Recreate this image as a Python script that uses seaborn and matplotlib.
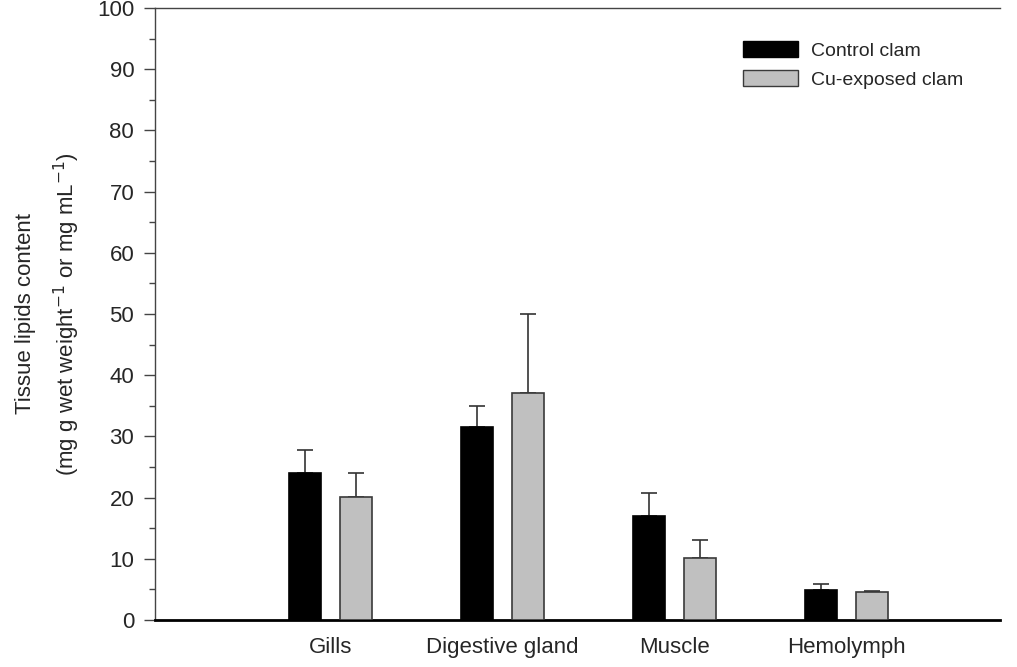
import matplotlib
matplotlib.use('Agg')
import matplotlib.pyplot as plt
import matplotlib.patches as mpatches
import seaborn as sns
import pandas as pd
import numpy as np

# values
tissues = ["Gills", "Digestive gland", "Muscle", "Hemolymph"]
groups = ["Control clam", "Cu-exposed clam"]
control = [24.0, 31.6, 17.0, 4.9]
control_err = [3.8, 3.4, 3.8, 0.9]
cu_exposed = [20.1, 37.1, 10.1, 4.5]
cu_exposed_err = [3.9, 12.9, 2.9, 0.2]

df = pd.DataFrame({
    'tissue': tissues * 2,
    'group': [groups[0]] * 4 + [groups[1]] * 4,
    'lipids': control + cu_exposed,
})
errs = {groups[0]: control_err, groups[1]: cu_exposed_err}

sns.set_style('ticks')
plt.rcParams['font.family'] = ['Liberation Sans', 'DejaVu Sans']

colors = {groups[0]: 'black', groups[1]: '#c0c0c0'}
edges = {groups[0]: 'black', groups[1]: '#3a3a3a'}

fig = plt.figure(figsize=(10.17, 6.67), dpi=100)
ax = fig.add_axes([0.1524, 0.0705, 0.8306, 0.9175])

sns.barplot(data=df, x='tissue', y='lipids', hue='group', order=tissues,
            hue_order=groups, palette=colors, errorbar=None, width=0.6,
            gap=0.38, ax=ax, legend=False, linewidth=1.2, zorder=3)

# upper-only error bars on the drawn bars
for cont, g in zip(ax.containers, groups):
    xs, ys = [], []
    for bar in cont:
        bar.set_edgecolor(edges[g])
        xs.append(bar.get_x() + bar.get_width() / 2)
        ys.append(bar.get_height())
    e = errs[g]
    ax.errorbar(xs, ys, yerr=[np.zeros(len(e)), e], fmt='none',
                ecolor='#333333', elinewidth=1.2, capsize=6, capthick=1.2,
                zorder=2)

ax.set_ylim(0, 100)
ax.set_xlim(-1.02, 3.89)
ax.set_yticks(np.arange(0, 101, 10))
ax.set_yticks(np.arange(5, 100, 10), minor=True)
ax.tick_params(axis='y', which='major', length=8, width=1, color='#444444',
               labelsize=16, pad=7)
ax.tick_params(axis='y', which='minor', length=4, width=1, color='#444444')
ax.tick_params(axis='x', length=0, labelsize=16, pad=12)

ax.set_xlabel('')
ax.set_ylabel('Tissue lipids content\n'
              '(mg g wet weight$^{-1}$ or mg mL$^{-1}$)',
              fontsize=16, labelpad=11, linespacing=1.7)

for side in ['left', 'top']:
    ax.spines[side].set_color('#444444')
    ax.spines[side].set_linewidth(1)
ax.spines['right'].set_visible(False)
ax.spines['bottom'].set_color('black')
ax.spines['bottom'].set_linewidth(2)

handles = [mpatches.Patch(facecolor=colors[g], edgecolor=edges[g], label=g)
           for g in groups]
ax.legend(handles=handles, loc='upper left', bbox_to_anchor=(0.675, 0.975),
          frameon=False, fontsize=14, handlelength=2.85, handleheight=0.9,
          handletextpad=0.65, labelspacing=0.55)

fig.savefig('out.png', dpi=100)
